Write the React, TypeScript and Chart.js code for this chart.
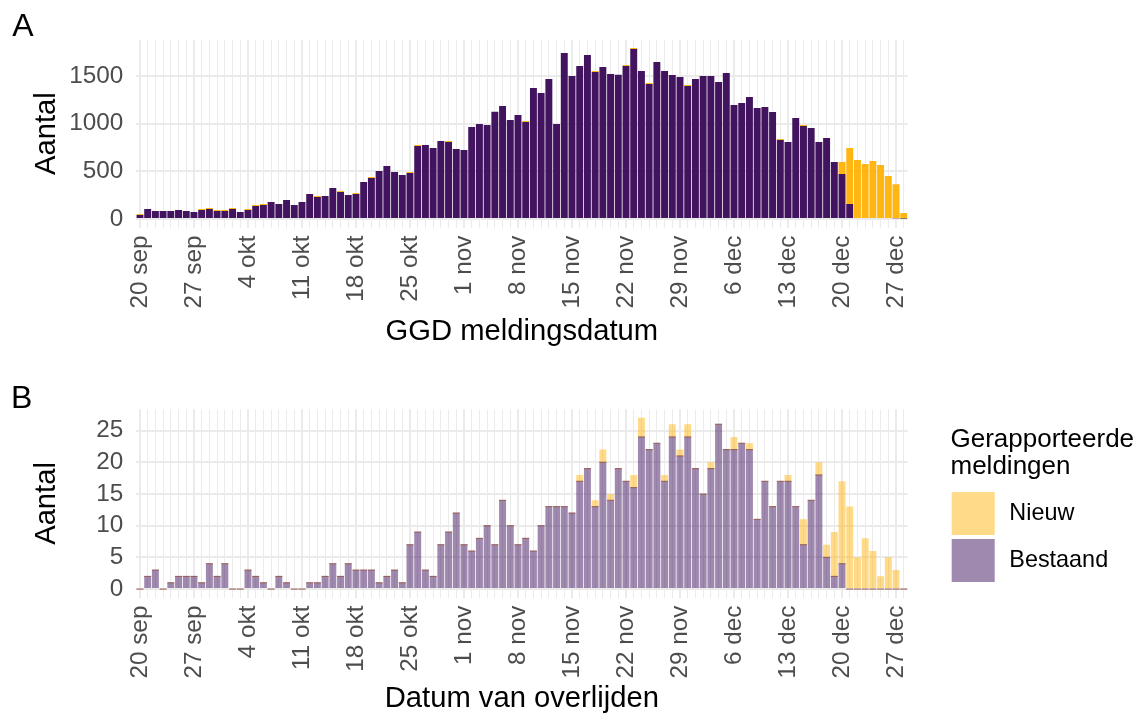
import React, { useEffect, useRef } from 'react';
import { Chart, registerables } from 'chart.js';

Chart.register(...registerables);

const FONT = "'Liberation Sans', Arial, Helvetica, sans-serif";
const PURPLE = '#42145F';
const YELLOW = '#FFB612';
const PURPLE_A = 'rgba(66,20,95,0.5)';
const YELLOW_A = 'rgba(255,182,18,0.5)';

// categories: 20 sep .. 28 dec (100 days)
const monthSpans: [string, number, number][] = [
  ['sep', 20, 30],
  ['okt', 1, 31],
  ['nov', 1, 30],
  ['dec', 1, 28],
];
const categories: string[] = [];
for (const [m, s, e] of monthSpans) for (let d = s; d <= e; d++) categories.push(`${d} ${m}`);

const tickLabels = [
  '20 sep', '27 sep', '4 okt', '11 okt', '18 okt', '25 okt', '1 nov', '8 nov',
  '15 nov', '22 nov', '29 nov', '6 dec', '13 dec', '20 dec', '27 dec',
];

// y grid positions (major ones get labels)
const yTicksA = [0, 250, 500, 750, 1000, 1250, 1500, 1750];
const yLabelsA = [0, 500, 1000, 1500];
const yTicksB = [0, 2.5, 5, 7.5, 10, 12.5, 15, 17.5, 20, 22.5, 25, 27.5];
const yLabelsB = [0, 5, 10, 15, 20, 25];

// Panel A: GGD meldingsdatum
const bestaandA = [
  42, 105, 84, 84, 84, 94, 84, 73, 94, 105,
  84, 84, 105, 73, 94, 136, 147, 178, 157, 199,
  147, 178, 262, 231, 241, 325, 283, 252, 262, 388,
  430, 503, 555, 493, 462, 483, 766, 777, 745, 819,
  808, 735, 724, 966, 997, 987, 1124, 1186, 1039, 1092,
  1018, 1375, 1322, 1469, 997, 1742, 1501, 1606, 1721, 1543,
  1595, 1522, 1512, 1606, 1784, 1553, 1417, 1648, 1553, 1511,
  1490, 1396, 1469, 1501, 1501, 1438, 1532, 1196, 1217, 1280,
  1165, 1175, 1123, 829, 808, 1060, 976, 955, 808, 850,
  598, 472, 157, 10, 10, 10, 10, 10, 8, 5,
];
const nieuwA = [
  10, 0, 0, 0, 0, 0, 0, 0, 10, 10,
  10, 10, 10, 0, 10, 10, 10, 0, 0, 0,
  0, 0, 0, 10, 0, 0, 10, 0, 10, 0,
  10, 0, 0, 0, 0, 10, 10, 0, 0, 0,
  10, 0, 0, 0, 0, 0, 0, 0, 0, 0,
  10, 0, 0, 0, 0, 0, 0, 0, 0, 10,
  0, 0, 0, 10, 10, 0, 10, 0, 0, 0,
  0, 10, 0, 0, 0, 0, 0, 0, 0, 0,
  0, 0, 0, 10, 0, 0, 10, 0, 0, 0,
  0, 126, 588, 609, 567, 598, 557, 441, 357, 58,
];

// Panel B: Datum van overlijden
const bestaandB = [
  0, 2, 3, 0, 1, 2, 2, 2, 1, 4,
  2, 4, 0, 0, 3, 2, 1, 0, 2, 1,
  0, 0, 1, 1, 2, 4, 2, 4, 3, 3,
  3, 1, 2, 3, 1, 7, 9, 3, 2, 7,
  9, 12, 7, 6, 8, 10, 7, 14, 10, 7,
  8, 6, 10, 13, 13, 13, 12, 17, 19, 13,
  20, 14, 19, 17, 16, 24, 22, 23, 17, 24,
  21, 24, 19, 15, 19, 26, 22, 22, 23, 22,
  11, 17, 13, 17, 17, 13, 7, 14, 18, 5,
  2, 4, 0, 0, 0, 0, 0, 0, 0, 0,
];
const nieuwB = [
  0, 0, 0, 0, 0, 0, 0, 0, 0, 0,
  0, 0, 0, 0, 0, 0, 0, 0, 0, 0,
  0, 0, 0, 0, 0, 0, 0, 0, 0, 0,
  0, 0, 0, 0, 0, 0, 0, 0, 0, 0,
  0, 0, 0, 0, 0, 0, 0, 0, 0, 0,
  0, 0, 0, 0, 0, 0, 0, 1, 0, 1,
  2, 1, 0, 0, 2, 3, 0, 0, 1, 2,
  1, 2, 0, 0, 1, 0, 0, 2, 0, 1,
  0, 0, 0, 0, 1, 0, 4, 0, 2, 2,
  7, 13, 13, 5, 8, 6, 2, 5, 3, 0,
];

const W = 1145;
const H = 357;
const PLOT_LEFT = 136.1;
const PLOT_RIGHT = 907.6;
const TICK_SIZE = 24.3;
const TITLE_SIZE = 29.2;

type PanelSpec = {
  letter: string;
  letterX: number;
  letterBaseline: number;
  plotTop: number;
  plotBottom: number;
  yMin: number;
  yMax: number;
  yTicks: number[];
  yLabels: number[];
  xTitle: string;
  xTitleOffset: number;
  bestaand: number[];
  nieuw: number[];
  purple: string;
  yellow: string;
  showLegend: boolean;
  topLine: boolean;
};

function makeConfig(p: PanelSpec): any {
  const plugins: any[] = [
    {
      id: 'panelLetter',
      afterDraw(chart: any) {
        const ctx = chart.ctx;
        ctx.save();
        ctx.fillStyle = '#000';
        ctx.font = `32px ${FONT}`;
        ctx.textBaseline = 'alphabetic';
        ctx.textAlign = 'left';
        ctx.fillText(p.letter, p.letterX, p.letterBaseline);
        ctx.restore();
      },
    },
  ];
  if (p.topLine) {
    plugins.push({
      id: 'topLine',
      afterDatasetsDraw(chart: any) {
        const ctx = chart.ctx;
        const meta = chart.getDatasetMeta(0);
        ctx.save();
        ctx.fillStyle = 'rgba(150,92,84,0.95)';
        meta.data.forEach((bar: any) => {
          const { x, y, width } = bar.getProps(['x', 'y', 'width'], true);
          ctx.fillRect(x - width / 2, y - 0.5, width, 1.1);
        });
        ctx.restore();
      },
    });
  }
  if (p.showLegend) {
    plugins.push({
      id: 'customLegend',
      afterDraw(chart: any) {
        const ctx = chart.ctx;
        ctx.save();
        ctx.fillStyle = '#000';
        ctx.textAlign = 'left';
        ctx.textBaseline = 'alphabetic';
        ctx.font = `26px ${FONT}`;
        ctx.fillText('Gerapporteerde', 950.5, 89.7);
        ctx.fillText('meldingen', 950.5, 117);
        ctx.fillStyle = p.yellow;
        ctx.fillRect(951.7, 135, 43, 43);
        ctx.fillStyle = p.purple;
        ctx.fillRect(951.7, 182, 43, 43);
        ctx.fillStyle = '#000';
        ctx.font = `23.4px ${FONT}`;
        ctx.textBaseline = 'middle';
        ctx.fillText('Nieuw', 1009.3, 156.5);
        ctx.fillText('Bestaand', 1009.3, 203.5);
        ctx.restore();
      },
    });
  }

  return {
    type: 'bar',
    data: {
      labels: categories,
      datasets: [
        {
          label: 'Bestaand',
          data: p.bestaand,
          backgroundColor: p.purple,
          borderWidth: 0,
          barPercentage: 0.9,
          categoryPercentage: 1,
        },
        {
          label: 'Nieuw',
          data: p.nieuw,
          backgroundColor: p.yellow,
          borderWidth: 0,
          barPercentage: 0.9,
          categoryPercentage: 1,
        },
      ],
    },
    options: {
      animation: false,
      responsive: false,
      devicePixelRatio: 1,
      layout: {
        padding: { left: 0, right: W - PLOT_RIGHT, top: p.plotTop, bottom: 0 },
      },
      plugins: {
        legend: { display: false },
        tooltip: { enabled: false },
      },
      scales: {
        x: {
          type: 'category',
          stacked: true,
          offset: true,
          afterFit(scale: any) {
            scale.height = H - p.plotBottom;
          },
          border: { display: false },
          grid: {
            offset: false,
            color: '#EBEBEB',
            lineWidth: (c: any) => (c.index % 7 === 0 ? 2 : 1),
            drawTicks: false,
          },
          ticks: {
            autoSkip: false,
            maxRotation: 90,
            minRotation: 90,
            padding: 8,
            color: '#4D4D4D',
            font: { family: FONT, size: TICK_SIZE, lineHeight: 1 },
            callback: (_v: any, i: number) => (tickLabels.includes(categories[i]) ? categories[i] : ''),
          },
          title: {
            display: true,
            text: p.xTitle,
            color: '#000',
            font: { family: FONT, size: TITLE_SIZE, lineHeight: 1 },
            padding: { top: 0, bottom: p.xTitleOffset - TITLE_SIZE / 2 },
          },
        },
        y: {
          stacked: true,
          min: p.yMin,
          max: p.yMax,
          afterFit(scale: any) {
            scale.width = PLOT_LEFT;
          },
          afterBuildTicks(scale: any) {
            scale.ticks = p.yTicks.map((v) => ({ value: v }));
          },
          border: { display: false },
          grid: {
            color: '#EBEBEB',
            lineWidth: (c: any) => (c.tick && p.yLabels.includes(c.tick.value) ? 2 : 1),
            drawTicks: false,
          },
          ticks: {
            padding: 12.8,
            color: '#4D4D4D',
            font: { family: FONT, size: TICK_SIZE, lineHeight: 1 },
            callback: (v: any) => (p.yLabels.includes(v) ? String(v) : ''),
          },
          title: {
            display: true,
            text: 'Aantal',
            color: '#000',
            font: { family: FONT, size: TITLE_SIZE, lineHeight: 1 },
            padding: { top: 46.8 - TITLE_SIZE / 2, bottom: 0 },
          },
        },
      },
    },
    plugins,
  };
}

const panelA: PanelSpec = {
  letter: 'A',
  letterX: 12.3,
  letterBaseline: 36,
  plotTop: 39.8,
  plotBottom: 227.5,
  yMin: -89.5,
  yMax: 1880,
  yTicks: yTicksA,
  yLabels: yLabelsA,
  xTitle: 'GGD meldingsdatum',
  xTitleOffset: 25,
  bestaand: bestaandA,
  nieuw: nieuwA,
  purple: PURPLE,
  yellow: YELLOW,
  showLegend: false,
  topLine: false,
};

const panelB: PanelSpec = {
  letter: 'B',
  letterX: 11,
  letterBaseline: 51,
  plotTop: 52.3,
  plotBottom: 240.6,
  yMin: -1.35,
  yMax: 28.35,
  yTicks: yTicksB,
  yLabels: yLabelsB,
  xTitle: 'Datum van overlijden',
  xTitleOffset: 15,
  bestaand: bestaandB,
  nieuw: nieuwB,
  purple: PURPLE_A,
  yellow: YELLOW_A,
  showLegend: true,
  topLine: true,
};

export default function App() {
  const refA = useRef<HTMLCanvasElement | null>(null);
  const refB = useRef<HTMLCanvasElement | null>(null);

  useEffect(() => {
    const a = new Chart(refA.current as HTMLCanvasElement, makeConfig(panelA));
    const b = new Chart(refB.current as HTMLCanvasElement, makeConfig(panelB));
    return () => {
      a.destroy();
      b.destroy();
    };
  }, []);

  return (
    <div style={{ position: 'absolute', left: 0, top: 0, width: W, height: 2 * H, background: '#fff' }}>
      <canvas ref={refA} width={W} height={H} style={{ position: 'absolute', left: 0, top: 0, width: W, height: H }} />
      <canvas ref={refB} width={W} height={H} style={{ position: 'absolute', left: 0, top: H, width: W, height: H }} />
    </div>
  );
}
